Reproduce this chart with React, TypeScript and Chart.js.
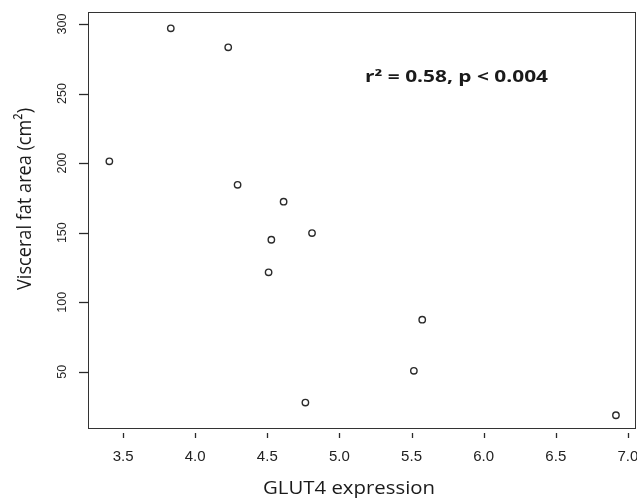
import React, { useEffect, useRef } from "react";
import { Chart, registerables } from "chart.js";

Chart.register(...registerables);

// GLUT4 expression (x) vs visceral fat area in cm² (y)
const glut4Expression = [3.405, 3.831, 4.229, 4.294, 4.613, 4.81, 4.528, 4.509, 5.574, 5.516, 4.764, 6.917];
const visceralFatArea = [201.3, 296.9, 283.2, 184.4, 172.3, 149.7, 144.9, 121.5, 87.5, 50.7, 27.9, 18.8];

const xTicks = [3.5, 4.0, 4.5, 5.0, 5.5, 6.0, 6.5, 7.0];
const yTicks = [50, 100, 150, 200, 250, 300];
const xRange = [3.257, 7.056];
const yRange = [8.9, 308.6];

const xTitle = "GLUT4 expression";
const yTitle = "Visceral fat area (cm²)";
const annotationText = "r² = 0.58, p < 0.004";

// draw text stretched to a target length along its direction
function drawStretched(
  ctx: CanvasRenderingContext2D,
  text: string,
  font: string,
  x: number,
  y: number,
  targetLen: number,
  crossScale: number,
  rotation: number,
  align: "left" | "center"
) {
  ctx.save();
  ctx.font = font;
  const w = ctx.measureText(text).width;
  ctx.translate(x, y);
  ctx.rotate(rotation);
  ctx.scale(targetLen / w, crossScale);
  ctx.textAlign = align;
  ctx.textBaseline = "alphabetic";
  ctx.fillText(text, 0, 0);
  ctx.restore();
}

const decorPlugin = {
  id: "decor",
  afterDraw(chart: any) {
    const { ctx, chartArea } = chart;
    const xs = chart.scales.x;
    const ys = chart.scales.y;
    ctx.save();
    ctx.setLineDash([]);
    // frame
    ctx.strokeStyle = "#333";
    ctx.lineWidth = 1;
    ctx.strokeRect(
      Math.round(chartArea.left) + 0.5,
      Math.round(chartArea.top) + 0.5,
      Math.round(chartArea.right - chartArea.left) - 1,
      Math.round(chartArea.bottom - chartArea.top) - 1
    );
    // tick marks (R style)
    ctx.strokeStyle = "#2a2a2a";
    ctx.lineWidth = 1.3;
    const b = Math.round(chartArea.bottom);
    const l = Math.round(chartArea.left);
    xTicks.forEach((v) => {
      const px = Math.round(xs.getPixelForValue(v)) + 0.5;
      ctx.beginPath();
      ctx.moveTo(px, b + 4);
      ctx.lineTo(px, b + 9);
      ctx.stroke();
    });
    yTicks.forEach((v) => {
      const py = Math.round(ys.getPixelForValue(v)) + 0.5;
      ctx.beginPath();
      ctx.moveTo(l - 9, py);
      ctx.lineTo(l + 1, py);
      ctx.stroke();
    });
    ctx.fillStyle = "#1a1a1a";
    // annotation
    drawStretched(ctx, annotationText, "bold 15.5px 'Open Sans'", 365, 81.5, 183, 1, 0, "left");
    // axis titles
    drawStretched(ctx, xTitle, "17.5px 'Open Sans'", 349, 494, 172, 1, 0, "center");
    drawStretched(ctx, yTitle, "17px 'Open Sans'", 30.5, 199, 182, 1.2, -Math.PI / 2, "center");
    ctx.restore();
  },
};

export default function App() {
  const ref = useRef<HTMLCanvasElement | null>(null);
  useEffect(() => {
    if (!ref.current) return;
    const chart = new Chart(ref.current, {
      type: "scatter",
      data: {
        datasets: [
          {
            label: "Visceral fat area",
            data: glut4Expression.map((x, i) => ({ x, y: visceralFatArea[i] })),
            pointStyle: "circle",
            pointRadius: 3.2,
            pointBorderWidth: 1.4,
            borderColor: "#2a2a2a",
            backgroundColor: "rgba(0,0,0,0)",
            showLine: false,
          },
        ],
      },
      options: {
        responsive: false,
        animation: false,
        layout: { autoPadding: false, padding: { top: 12, right: 1, left: 0, bottom: 0 } },
        plugins: { legend: { display: false }, tooltip: { enabled: false } },
        scales: {
          x: {
            type: "linear",
            position: "bottom",
            min: xRange[0],
            max: xRange[1],
            afterBuildTicks: (s: any) => {
              s.ticks = xTicks.map((v) => ({ value: v }));
            },
            afterFit: (s: any) => {
              s.height = 69;
              s.paddingLeft = 0;
              s.paddingRight = 0;
            },
            border: { display: false },
            grid: {
              drawOnChartArea: false,
              drawTicks: true,
              tickLength: 8,
              tickColor: "rgba(0,0,0,0)",
            },
            ticks: {
              font: { family: "'Liberation Sans', Arial", size: 15 },
              color: "#222",
              padding: 11,
              maxRotation: 0,
              autoSkip: false,
              callback: (v: any) => Number(v).toFixed(1),
            },
            title: { display: false, text: xTitle },
          },
          y: {
            type: "linear",
            position: "left",
            min: yRange[0],
            max: yRange[1],
            afterBuildTicks: (s: any) => {
              s.ticks = yTicks.map((v) => ({ value: v }));
            },
            afterFit: (s: any) => {
              s.width = 88;
              s.paddingTop = 0;
              s.paddingBottom = 0;
            },
            border: { display: false },
            grid: {
              drawOnChartArea: false,
              drawTicks: true,
              tickLength: 9,
              tickColor: "rgba(0,0,0,0)",
            },
            ticks: {
              font: { family: "'Liberation Sans', Arial", size: 12.5 },
              color: "#222",
              padding: 6,
              minRotation: 90,
              maxRotation: 90,
              crossAlign: "center",
              autoSkip: false,
              callback: (v: any) => String(v),
            },
            title: { display: false, text: yTitle },
          },
        },
      },
      plugins: [decorPlugin],
    } as any);
    return () => chart.destroy();
  }, []);
  return (
    <div style={{ position: "absolute", left: 0, top: 0, width: 637, height: 498, background: "#fff" }}>
      <canvas ref={ref} width={637} height={498} style={{ display: "block" }} />
    </div>
  );
}
